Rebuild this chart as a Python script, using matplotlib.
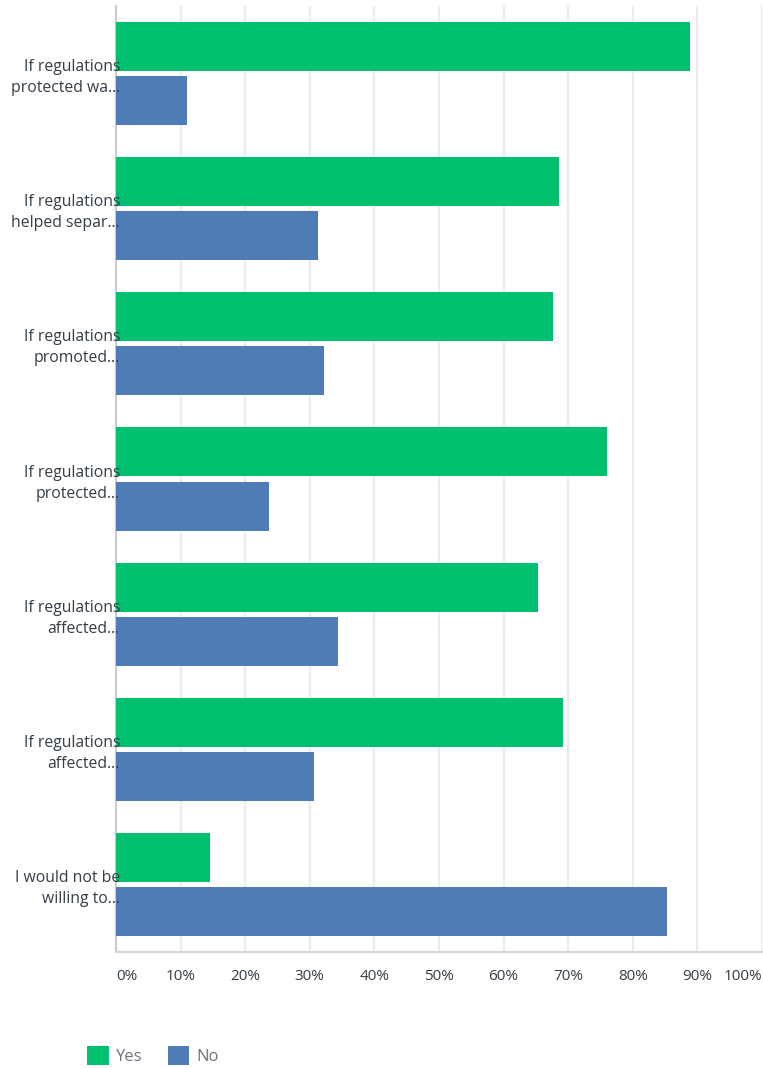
import numpy as np
import matplotlib.pyplot as plt

plt.rcParams['font.family'] = ['Open Sans', 'DejaVu Sans']

# Survey answers, shares in percent
questions = [
    "If regulations\nprotected wa\u2026",
    "If regulations\nhelped separ\u2026",
    "If regulations\npromoted\u2026",
    "If regulations\nprotected\u2026",
    "If regulations\naffected\u2026",
    "If regulations\naffected\u2026",
    "I would not be\nwilling to\u2026",
]
yes_pct = [88.9, 68.6, 67.6, 76.0, 65.3, 69.2, 14.6]
no_pct = [11.0, 31.3, 32.2, 23.7, 34.4, 30.7, 85.3]
x_ticks = [0, 10, 20, 30, 40, 50, 60, 70, 80, 90, 100]

green = "#00bf6f"
blue = "#507cb6"
text_color = "#333e48"

fig = plt.figure(figsize=(7.63, 10.68), dpi=100)
ax = fig.add_axes([116 / 763, 116 / 1068, 646 / 763, 946 / 1068])

y = np.arange(len(questions))
h = 0.363
off = 0.2
ax.barh(y - off, yes_pct, height=h, color=green, zorder=3, label="Yes")
ax.barh(y + off, no_pct, height=h, color=blue, zorder=3, label="No")

ax.set_xlim(0, 100)
ax.set_ylim(len(questions) - 0.5, -0.5)

# light vertical grid
ax.set_xticks(x_ticks)
ax.xaxis.grid(True, color="#ececec", linewidth=1.6, zorder=0)
ax.set_xticklabels([])
ax.set_yticks([])
ax.tick_params(axis="both", length=0)

# percent labels under the axis, first and last kept inside the plot width
xtrans = ax.get_xaxis_transform()
for t in x_ticks:
    ha = "center"
    if t == 0:
        ha = "left"
    elif t == 100:
        ha = "right"
    ax.text(t, -24 / 946, f"{t}%", transform=xtrans,
            ha=ha, va="center", fontsize=11, color=text_color)

# question labels sit on top of the bars, slightly past the axis line
ytrans = ax.get_yaxis_transform()
for yi, q in zip(y, questions):
    ax.text(4 / 646, yi + 0.03, q, transform=ytrans, ha="right", va="center",
            fontsize=11.3, color=text_color, linespacing=1.42,
            zorder=10, clip_on=False)

for side in ["top", "right"]:
    ax.spines[side].set_visible(False)
ax.spines["left"].set_color("#cccccc")
ax.spines["left"].set_linewidth(1.5)
ax.spines["bottom"].set_color("#d5d5d5")
ax.spines["bottom"].set_linewidth(1.5)

fig.legend(loc="lower left", bbox_to_anchor=(87 / 763, 3 / 1068), ncol=2,
           frameon=False, fontsize=12, labelcolor="#6a737c",
           handlelength=1.3, handleheight=1.3, handletextpad=0.45,
           columnspacing=1.5, borderpad=0, borderaxespad=0)

fig.savefig("out.png", dpi=100)
